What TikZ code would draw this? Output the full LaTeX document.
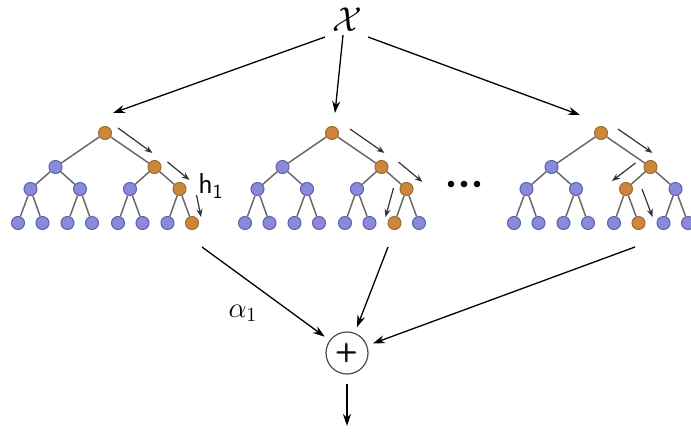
\documentclass[tikz,border=0pt]{standalone}
\usepackage{amsmath}
\usepackage{amssymb}
\usepackage{tikz}
\usetikzlibrary{arrows.meta}

\definecolor{nodeblue}{RGB}{138,138,218}
\definecolor{ringblue}{RGB}{95,95,175}
\definecolor{nodeorange}{RGB}{205,135,60}
\definecolor{ringorange}{RGB}{160,105,45}
\definecolor{edgegray}{RGB}{105,105,105}

\begin{document}
\begin{tikzpicture}[x=0.5pt, y=-0.5pt,
    main/.style = {draw=ringblue, fill=nodeblue, circle, minimum size=6.5pt, inner sep=0pt, line width=0.5pt},
    hot/.style = {main, draw=ringorange, fill=nodeorange},
    edge/.style = {draw=edgegray, line width=0.75pt},
    arrow/.style = {-{Stealth[length=6pt,width=4pt]}, line width=0.65pt},
    walk/.style = {-{Stealth[length=4pt,width=3pt]}, line width=0.6pt, draw=black!80}]
            \useasboundingbox (0,0) rectangle (691,434);
            % Input
            \node (x) at (347,20) {\LARGE$\mathcal{X}$};
            % Tree 1
            \node[hot] (a1) at (105,133) {};
            \node[main] (a2) at (55.5,167) {};
            \node[hot] (a3) at (154.5,167) {};
            \node[main] (a4) at (30.5,189) {};
            \node[main] (a5) at (80,189) {};
            \node[main] (a6) at (130,189) {};
            \node[hot] (a7) at (179.5,189) {};
            \node[main] (a8) at (18,223) {};
            \node[main] (a9) at (42.5,223) {};
            \node[main] (a10) at (67.5,223) {};
            \node[main] (a11) at (92,223) {};
            \node[main] (a12) at (118,223) {};
            \node[main] (a13) at (142.5,223) {};
            \node[main] (a14) at (167.5,223) {};
            \node[hot] (a15) at (192,223) {};
            % Tree 2
            \node[hot] (b1) at (332,133) {};
            \node[main] (b2) at (282.5,167) {};
            \node[hot] (b3) at (381.5,167) {};
            \node[main] (b4) at (257.5,189) {};
            \node[main] (b5) at (307,189) {};
            \node[main] (b6) at (357,189) {};
            \node[hot] (b7) at (406.5,189) {};
            \node[main] (b8) at (245,223) {};
            \node[main] (b9) at (269.5,223) {};
            \node[main] (b10) at (294.5,223) {};
            \node[main] (b11) at (319,223) {};
            \node[main] (b12) at (345,223) {};
            \node[main] (b13) at (369.5,223) {};
            \node[hot] (b14) at (394.5,223) {};
            \node[main] (b15) at (419,223) {};
            % Tree 3
            \node[hot] (c1) at (601,133) {};
            \node[main] (c2) at (551.5,167) {};
            \node[hot] (c3) at (650.5,167) {};
            \node[main] (c4) at (526.5,189) {};
            \node[main] (c5) at (576,189) {};
            \node[hot] (c6) at (626,189) {};
            \node[main] (c7) at (675.5,189) {};
            \node[main] (c8) at (514,223) {};
            \node[main] (c9) at (538.5,223) {};
            \node[main] (c10) at (563.5,223) {};
            \node[main] (c11) at (588,223) {};
            \node[main] (c12) at (614,223) {};
            \node[hot] (c13) at (638.5,223) {};
            \node[main] (c14) at (663.5,223) {};
            \node[main] (c15) at (688,223) {};
            % Sum and labels
            \node[draw=black!70, circle, minimum size=21pt, inner sep=0pt, line width=0.6pt] (sum) at (347,353) {\Large$\pmb{+}$};
            \coordinate (out) at (347,426);
            \node (h1) at (211,186) {\Large$\mathsf{h}_\mathsf{1}$};
            \node (alpha) at (243,313) {\Large$\alpha_1$};
            \foreach \d in {451,464,477} \fill (\d,184) circle (3.3);
            % Edges
            \foreach \t in {a,b,c}
              \foreach \p/\q in {1/2,1/3,2/4,2/5,3/6,3/7,4/8,4/9,5/10,5/11,6/12,6/13,7/14,7/15}
                \draw[edge] (\t\p) -- (\t\q);
            % Paths
            \draw[walk] ([shift={(13,-5)}]a1.center) -- ([shift={(-2,-14)}]a3.center);
            \draw[walk] ([shift={(13,-5)}]a3.center) -- ([shift={(10,-9)}]a7.center);
            \draw[walk] ([shift={(17,6)}]a7.center) -- ([shift={(9,-6)}]a15.center);
            \draw[walk] ([shift={(18,-4)}]b1.center) -- ([shift={(3,-14)}]b3.center);
            \draw[walk] ([shift={(17,-5)}]b3.center) -- ([shift={(16,-7)}]b7.center);
            \draw[walk] ([shift={(-13,-1)}]b7.center) -- ([shift={(-9,-6)}]b14.center);
            \draw[walk] ([shift={(17,-4)}]c1.center) -- ([shift={(2,-14)}]c3.center);
            \draw[walk] ([shift={(-15,-4)}]c3.center) -- ([shift={(-14,-8)}]c6.center);
            \draw[walk] ([shift={(16,0)}]c6.center) -- ([shift={(14,-6)}]c13.center);
            % Arrows
            \draw[arrow] ([shift={(-22,17)}]x.center) -- ([shift={(8,-20)}]a1.center);
            \draw[arrow] ([shift={(-4,15)}]x.center) -- ([shift={(3,-20)}]b1.center);
            \draw[arrow] ([shift={(21,17)}]x.center) -- ([shift={(-21,-18)}]c1.center);
            \draw[arrow, shorten >=3pt] ([shift={(10,24)}]a15.center) -- (sum);
            \draw[arrow, shorten >=3pt] ([shift={(-6.5,24)}]b14.center) -- (sum);
            \draw[arrow, shorten >=3pt] ([shift={(-3.5,24)}]c13.center) -- (sum);
            \draw[arrow, shorten <=4.5pt] (sum) -- (out);
\end{tikzpicture}
\end{document}
